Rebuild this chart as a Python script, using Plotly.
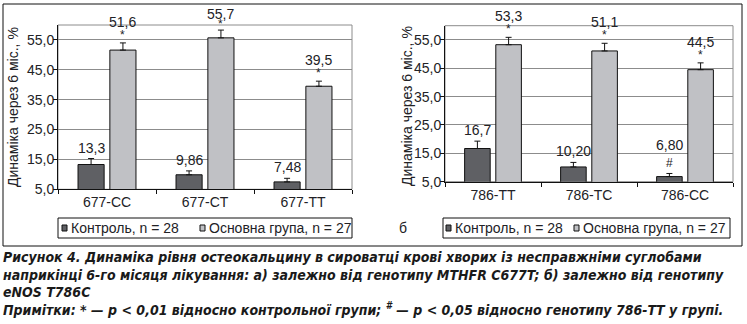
import plotly.graph_objects as go

# ---- data ----
cats_a = ["677-CC", "677-CT", "677-TT"]
ctrl_a = [13.3, 9.86, 7.48]
main_a = [51.6, 55.7, 39.5]
ctrl_a_err = [2.0, 1.3, 1.2]
main_a_err = [2.4, 2.6, 1.7]
ctrl_a_lbl = ["13,3", "9,86", "7,48"]
main_a_lbl = ["51,6", "55,7", "39,5"]
ctrl_a_mark = ["", "", ""]
main_a_mark = ["*", "*", "*"]

cats_b = ["786-TT", "786-TC", "786-CC"]
ctrl_b = [16.7, 10.20, 6.80]
main_b = [53.3, 51.1, 44.5]
ctrl_b_err = [2.6, 1.6, 1.1]
main_b_err = [2.6, 2.7, 2.4]
ctrl_b_lbl = ["16,7", "10,20", "6,80"]
main_b_lbl = ["53,3", "51,1", "44,5"]
ctrl_b_mark = ["", "", "#"]
main_b_mark = ["*", "*", "*"]

y_ticks = [5, 15, 25, 35, 45, 55]
y_ticktext = ["5,0", "15,0", "25,0", "35,0", "45,0", "55,0"]
name_ctrl = "Контроль, n = 28"
name_main = "Основна група, n = 27"
ytitle = "Динаміка через 6 міс., %"

caption = [
    "Рисунок 4. Динаміка рівня остеокальцину в сироватці крові хворих із несправжніми суглобами",
    "наприкінці 6-го місяця лікування: а) залежно від генотипу MTHFR C677T; б) залежно від генотипу",
    "eNOS T786C",
    "Примітки: * — p < 0,01 відносно контрольної групи; <sup>#</sup> — p < 0,05 відносно генотипу 786-ТТ у групі.",
]

# ---- layout geometry ----
W, H = 747, 324
DARK = "#5f6064"
LIGHT = "#c0c1c5"
TXT = "#222226"
FONT = "Liberation Sans, Arial, sans-serif"
BARGAP = 0.35
GROUPGAP = 0.18
YMIN, YMAX = 5, 60

def px(x):
    return x / W

def py(y):
    return 1 - y / H

fig = go.Figure()

def add_panel(cats, ctrl, main, ce, me, xa, ya):
    fig.add_trace(go.Bar(
        x=cats, y=ctrl, name=name_ctrl, xaxis=xa, yaxis=ya, showlegend=False,
        marker=dict(color=DARK, line=dict(color="#111", width=1)),
        error_y=dict(type="data", array=ce, arrayminus=[0] * len(ce), symmetric=False,
                     color="#111", thickness=1, width=3),
    ))
    fig.add_trace(go.Bar(
        x=cats, y=main, name=name_main, xaxis=xa, yaxis=ya, showlegend=False,
        marker=dict(color=LIGHT, line=dict(color="#111", width=1)),
        error_y=dict(type="data", array=me, arrayminus=[0] * len(me), symmetric=False,
                     color="#111", thickness=1, width=3),
    ))

add_panel(cats_a, ctrl_a, main_a, ctrl_a_err, main_a_err, "x", "y")
add_panel(cats_b, ctrl_b, main_b, ctrl_b_err, main_b_err, "x2", "y2")

# plot area boxes (px): left, top, right, bottom
box_a = (58, 25, 352, 189.3)
box_b = (445, 25.7, 733, 181.7)

axis_common = dict(showline=True, linecolor="#111", linewidth=1, ticks="outside",
                   ticklen=4, tickcolor="#111", tickfont=dict(size=14, color=TXT, family=FONT))

layout = dict(
    width=W, height=H, margin=dict(l=0, r=0, t=0, b=0, autoexpand=False),
    paper_bgcolor="white", plot_bgcolor="white", showlegend=False,
    barmode="group", bargap=BARGAP, bargroupgap=GROUPGAP,
    font=dict(family=FONT, color=TXT, size=14),
)
for suffix, box in (("", box_a), ("2", box_b)):
    layout["xaxis" + suffix] = dict(
        domain=[px(box[0]), px(box[2])], anchor="y" + suffix, type="category",
        tickson="boundaries", showgrid=False, **axis_common)
    layout["yaxis" + suffix] = dict(
        domain=[py(box[3]), py(box[1])], anchor="x" + suffix, range=[YMIN, YMAX],
        tickvals=y_ticks, ticktext=y_ticktext, showgrid=True, gridcolor="#8c8c8c",
        gridwidth=1, zeroline=False, ticklabelstandoff=-4, **axis_common)
fig.update_layout(**layout)

shapes = []
# outer frame
shapes.append(dict(type="rect", xref="paper", yref="paper", x0=px(3), x1=px(742), y0=py(246), y1=py(4),
                   line=dict(color="#111", width=1), layer="below"))
# gray top/right plot borders
for xa, ya in (("x", "y"), ("x2", "y2")):
    shapes.append(dict(type="rect", xref=xa + " domain", yref=ya + " domain", x0=0, x1=1, y0=0, y1=1,
                       line=dict(color="#8c8c8c", width=1), layer="below"))

ann = []

# ---- legends (drawn manually: box, swatches, labels) ----
def legend(x0, x1, sw1, sw2):
    y0, y1 = 218, 238
    ym = (y0 + y1) / 2
    shapes.append(dict(type="rect", xref="paper", yref="paper", x0=px(x0), x1=px(x1), y0=py(y1), y1=py(y0),
                       line=dict(color="#111", width=1), fillcolor="white"))
    for sx, col, name in ((sw1, DARK, name_ctrl), (sw2, LIGHT, name_main)):
        shapes.append(dict(type="rect", xref="paper", yref="paper", x0=px(sx), x1=px(sx + 5),
                           y0=py(ym + 3), y1=py(ym - 3), line=dict(color="#111", width=1), fillcolor=col))
        ann.append(dict(x=px(sx + 6.5), y=py(ym), xref="paper", yref="paper", text=name, showarrow=False,
                        xanchor="left", yanchor="middle", font=dict(size=14, color=TXT)))

legend(58, 352, 62, 200)
legend(443, 730, 446, 574)

# ---- value labels ----
off = (1 - BARGAP) / 4

def labels(vals, errs, lbls, marks, xa, ya, dx, box):
    scale = (box[3] - box[1]) / (YMAX - YMIN)
    for i, (v, e, l, m) in enumerate(zip(vals, errs, lbls, marks)):
        top = v + e
        top_px = box[3] - (top - YMIN) * scale
        if m:
            lbl_shift = 28 if m == "#" else 21
            lbl_shift = min(lbl_shift, top_px - 14)
            mark_shift = 10 if m == "#" else min(8, lbl_shift - 10)
            ann.append(dict(x=i + dx, y=top, xref=xa, yref=ya, text=m, showarrow=False,
                            yshift=mark_shift, font=dict(size=12, color=TXT)))
        else:
            lbl_shift = 11
        ann.append(dict(x=i + dx, y=top, xref=xa, yref=ya, text=l, showarrow=False,
                        yshift=lbl_shift, font=dict(size=14, color=TXT)))

labels(ctrl_a, ctrl_a_err, ctrl_a_lbl, ctrl_a_mark, "x", "y", -off, box_a)
labels(main_a, main_a_err, main_a_lbl, main_a_mark, "x", "y", off, box_a)
labels(ctrl_b, ctrl_b_err, ctrl_b_lbl, ctrl_b_mark, "x2", "y2", -off, box_b)
labels(main_b, main_b_err, main_b_lbl, main_b_mark, "x2", "y2", off, box_b)

# y-axis titles
ann.append(dict(x=px(13), y=py(107), xref="paper", yref="paper", text=ytitle, textangle=-90,
                xanchor="center", yanchor="middle",
                showarrow=False, font=dict(size=14, color=TXT)))
ann.append(dict(x=px(407), y=py(106), xref="paper", yref="paper", text=ytitle, textangle=-90,
                xanchor="center", yanchor="middle",
                showarrow=False, font=dict(size=14, color=TXT)))
ann.append(dict(x=px(403), y=py(228), xref="paper", yref="paper", text="б",
                xanchor="center", yanchor="middle",
                showarrow=False, font=dict(size=14, color=TXT)))

cap_y = [257, 275, 292, 309]
for t, yy in zip(caption, cap_y):
    ann.append(dict(x=px(1), y=py(yy), xref="paper", yref="paper", text=t, showarrow=False,
                    xanchor="left", yanchor="middle",
                    font=dict(size=14, color="#1a1a1a",
                              family="DejaVu Sans Condensed, Liberation Sans Narrow, Liberation Sans",
                              weight="bold", style="italic")))

fig.update_layout(annotations=ann, shapes=shapes)
fig.write_html("out.html")
